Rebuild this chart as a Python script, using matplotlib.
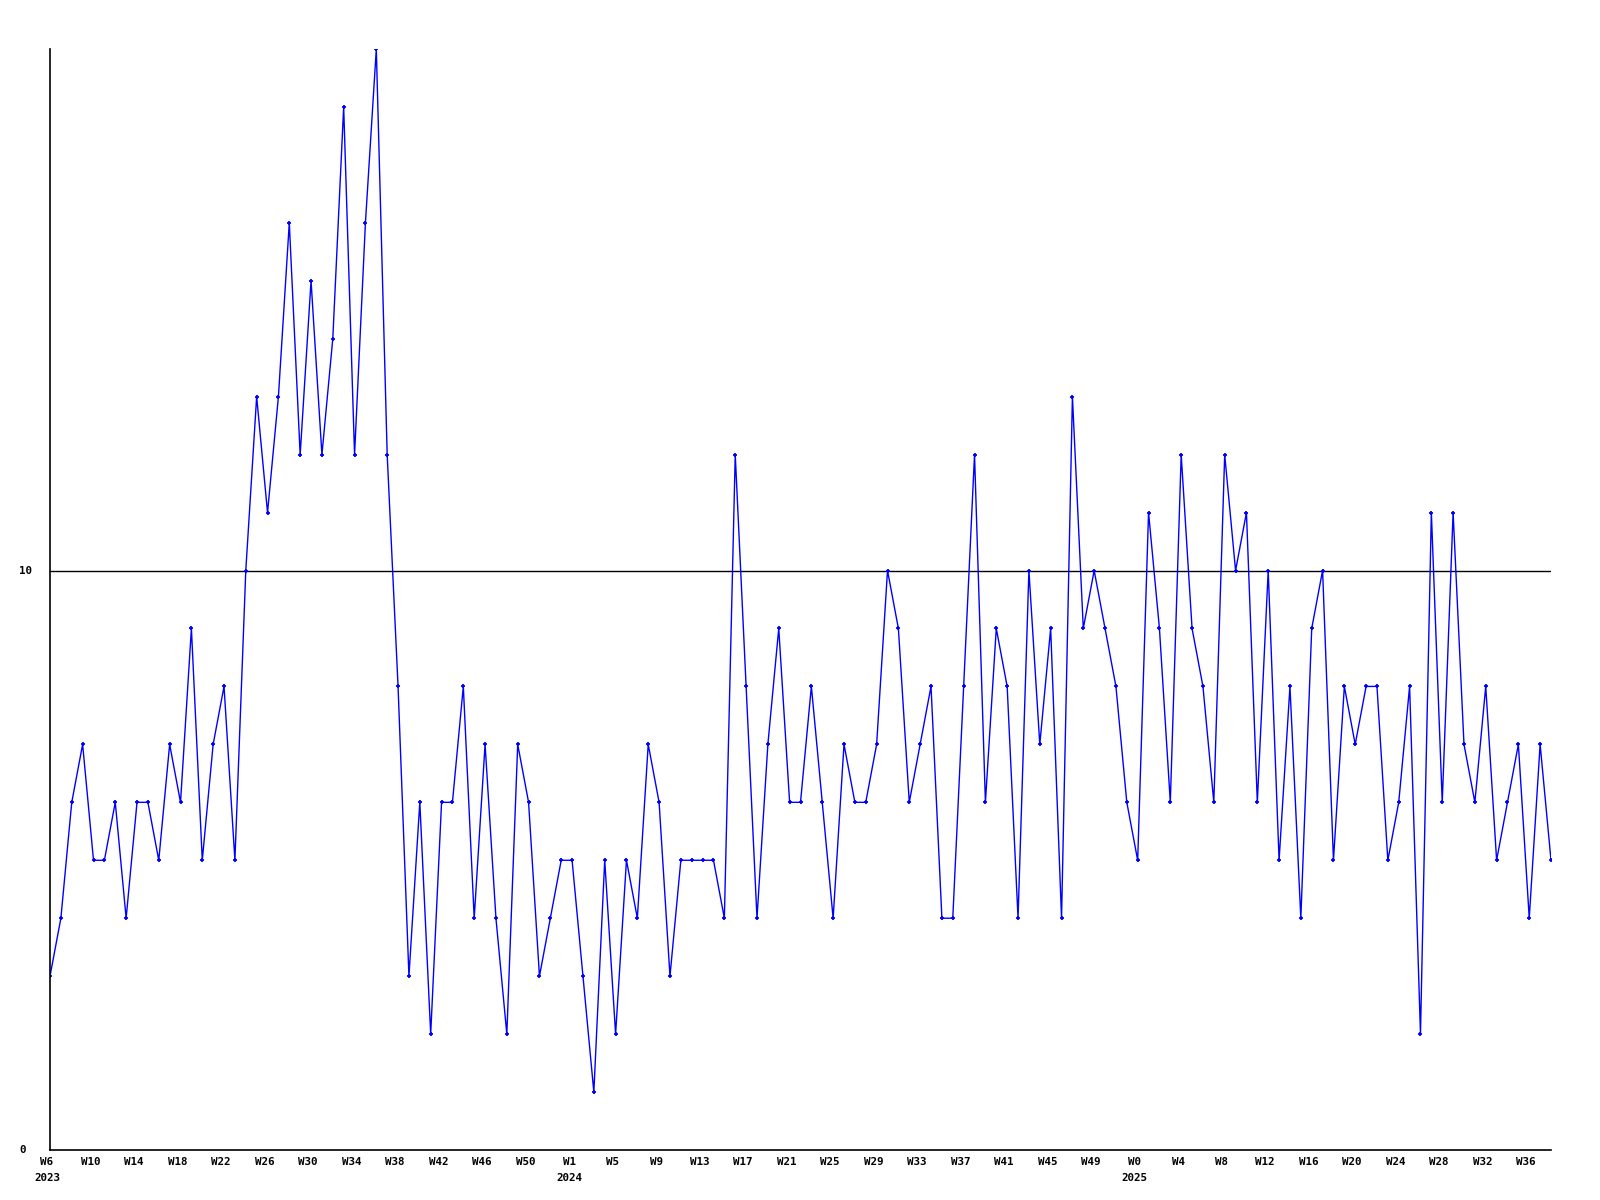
import numpy as np
import matplotlib
matplotlib.use("Agg")
import matplotlib.pyplot as plt
import matplotlib.transforms as mtransforms

# weekly values, 2023 W6 .. 2025 W38
values = [3, 4, 6, 7, 5, 5, 6, 4, 6, 6, 5, 7, 6, 9, 5, 7, 8, 5, 10, 13,
          11, 13, 16, 12, 15, 12, 14, 18, 12, 16, 19, 12, 8,
          3, 6, 2, 6, 6, 8, 4, 7, 4, 2, 7, 6, 3, 4, 5, 5, 3, 1, 5, 2,
          5, 4, 7, 6, 3, 5, 5, 5, 5, 4, 12, 8, 4, 7, 9,
          6, 6, 8, 6, 4, 7, 6, 6, 7, 10, 9, 6, 7, 8, 4, 4, 8, 12, 6, 9,
          8, 4, 10, 7, 9, 4, 13, 9, 10, 9, 8, 6, 5, 11, 9, 6, 12,
          9, 8, 6, 12, 10, 11, 6, 10, 5, 8, 4, 9, 10, 5, 8, 7, 8, 8, 5, 6,
          8, 2, 11, 6, 11, 7, 6, 8, 5, 6, 7, 4, 7, 5]

# one label every 4 weeks
week_labels = ['W6', 'W10', 'W14', 'W18', 'W22', 'W26', 'W30', 'W34', 'W38',
               'W42', 'W46', 'W50',
               'W1', 'W5', 'W9', 'W13', 'W17', 'W21', 'W25', 'W29', 'W33',
               'W37', 'W41', 'W45', 'W49',
               'W0', 'W4', 'W8', 'W12', 'W16', 'W20', 'W24', 'W28', 'W32', 'W36']
year_labels = {'W6': '2023', 'W1': '2024', 'W0': '2025'}

y_ticks = [0, 10]
ref_level = 10

x = np.arange(len(values))
tick_pos = np.arange(len(week_labels)) * 4

W, H = 1600, 1200
fig = plt.figure(figsize=(16, 12), dpi=100)
left, right, top, bottom = 50, 1551, 49, 1150
ax = fig.add_axes([left / W, 1 - bottom / H, (right - left) / W, (bottom - top) / H])

font = dict(family='DejaVu Sans Mono', fontweight='bold', fontsize=7.8)

ax.axhline(ref_level, color='black', linewidth=1.0, zorder=1)
ax.plot(x, values, color='#0000ff', linewidth=1.0, marker='+',
        markersize=3.5, markeredgewidth=1.3, zorder=2)

ax.set_xlim(0, len(values) - 1)
ax.set_ylim(0, 19)

for side in ['top', 'right']:
    ax.spines[side].set_visible(False)
for side in ['left', 'bottom']:
    ax.spines[side].set_color('black')
    ax.spines[side].set_linewidth(1.2)

ax.set_yticks([])
ax.set_xticks(tick_pos)
ax.set_xticklabels([])
ax.tick_params(axis='x', length=0)

# small leftward nudge of the bottom labels, as in the reference
nudge = mtransforms.ScaledTranslation(-3 / 100, 0, fig.dpi_scale_trans)
trans_x = mtransforms.blended_transform_factory(ax.transData, ax.transAxes) + nudge
for pos, lab in zip(tick_pos, week_labels):
    ax.text(pos, -12 / (bottom - top), lab, transform=trans_x,
            ha='center', va='center', **font)
    if lab in year_labels:
        ax.text(pos, -28 / (bottom - top), year_labels[lab], transform=trans_x,
                ha='center', va='center', **font)

trans_y = mtransforms.blended_transform_factory(ax.transAxes, ax.transData)
for v in y_ticks:
    ax.text(-30.6 / (right - left), v, str(v), transform=trans_y,
            ha='left', va='center', **font)

fig.savefig('out.png', dpi=100)
